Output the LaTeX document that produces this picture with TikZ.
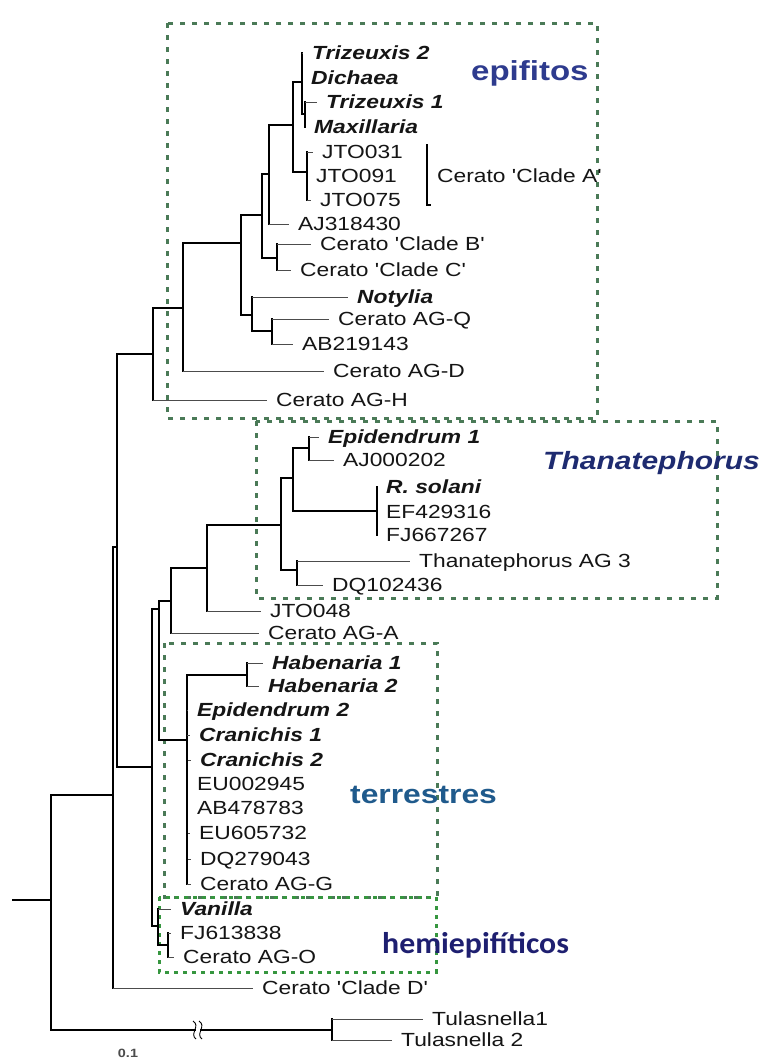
\documentclass[tikz,border=0pt]{standalone}
\usepackage{fontspec}
\newfontfamily\lf{Liberation Sans}[FakeStretch=1.2]
\newfontfamily\cf{Carlito}[FakeStretch=1.06]
\definecolor{boxgreen}{HTML}{4A7A57}
\definecolor{hemigreen}{HTML}{36963F}
\definecolor{epiblue}{HTML}{2E3B8E}
\definecolor{thanblue}{HTML}{1E2B70}
\definecolor{terrblue}{HTML}{1F5A8C}
\definecolor{hemiblue}{HTML}{1E1F70}
\definecolor{ink}{HTML}{151515}
\newcommand\tipedge[2]{\draw[branch] (#1) -- (#1 |- #2.west);\draw[twig] (#1 |- #2.west) -- ([xshift=-9pt]#2.west);}
\begin{document}
\begin{tikzpicture}[x=1pt,y=-1pt,
  tip/.style={anchor=west, inner sep=0pt, text height=13.5pt, text depth=0pt, font=\lf\fontsize{19}{19}\selectfont, text=ink},
  tipb/.style={tip, font=\lf\fontsize{19}{19}\selectfont\bfseries\itshape},
  branch/.style={line width=1.2pt, black, line cap=rect},
  twig/.style={line width=0.9pt, black!70},
  grp/.style={draw=boxgreen, line width=3pt, dash pattern=on 5pt off 7pt},
  hemigrp/.style={draw=hemigreen, line width=3pt, dash pattern=on 4pt off 5pt},
  grplabel/.style={anchor=west, inner sep=0pt}
]
\fill[white] (0,0) rectangle (764,1061);
\useasboundingbox (0,0) rectangle (764,1061);

% group boxes
\draw[grp] (167,23) rectangle (597,418);
\draw[grp] (256,421) rectangle (717,598);
\draw[grp] (164,643) rectangle (437,897);
\draw[hemigrp] (159,897) rectangle (436,972);

% group labels
\node[grplabel, font=\lf\fontsize{27.5}{27.5}\selectfont\bfseries, text=epiblue] (lepi) at (471,73) {epifitos};
\node[grplabel, font=\lf\fontsize{25}{25}\selectfont\bfseries\itshape, text=thanblue] (lthan) at (543,463) {Thanatephorus};
\node[grplabel, font=\lf\fontsize{26.5}{26.5}\selectfont\bfseries, text=terrblue] (lterr) at (350,795) {terrestres};
\node[grplabel, font=\cf\fontsize{30}{30}\selectfont\bfseries, text=hemiblue] (lhemi) at (382,945) {hemiepifíticos};

% internal nodes
\coordinate (rs) at (13,900);
\coordinate (root) at (51,900);
\coordinate (nA) at (113,795);
\coordinate (nTul) at (332,1030);
\coordinate (nB) at (117,547);
\coordinate (nEpi) at (153,354);
\coordinate (nD) at (152,767);
\coordinate (n183) at (183,308);
\coordinate (nR) at (241,243);
\coordinate (nP) at (262,215);
\coordinate (nS) at (252,315);
\coordinate (nQ) at (269,174);
\coordinate (nBC) at (277,258);
\coordinate (n293) at (293,125);
\coordinate (nT) at (302,82);
\coordinate (nM) at (305,114);
\coordinate (nJ) at (307,172);
\coordinate (nU) at (272,331);
\coordinate (nE) at (159,609);
\coordinate (nF) at (171,601);
\coordinate (nG) at (207,568);
\coordinate (nH) at (281,525);
\coordinate (nI) at (293,478);
\coordinate (nJ2) at (309,448);
\coordinate (nK) at (377,511);
\coordinate (nL) at (297,570);
\coordinate (nTer) at (187,740);
\coordinate (nHab) at (247,675);
\coordinate (nV) at (158,926);
\coordinate (nW) at (168,945);

% tips: epifitos
\node[tipb] (tTri2) at (312,53) {Trizeuxis 2};
\node[tipb] (tDic) at (311,78) {Dichaea};
\node[tipb] (tTri1) at (326,102) {Trizeuxis 1};
\node[tipb] (tMax) at (314,127) {Maxillaria};
\node[tip] (tJ31) at (322,152) {JTO031};
\node[tip] (tJ91) at (316,176) {JTO091};
\node[tip] (tJ75) at (320,200) {JTO075};
\node[tip] (tAJ3) at (298,224) {AJ318430};
\node[tip] (tCB) at (320,244) {Cerato 'Clade B'};
\node[tip] (tCC) at (300,270) {Cerato 'Clade C'};
\node[tipb] (tNot) at (357,297) {Notylia};
\node[tip] (tAGQ) at (338,319) {Cerato AG-Q};
\node[tip] (tAB2) at (302,344) {AB219143};
\node[tip] (tAGD) at (333,371) {Cerato AG-D};
\node[tip] (tAGH) at (276,400) {Cerato AG-H};
% Clade A bracket
\coordinate (caT) at (427,144);
\coordinate (caB) at (427,205);
\coordinate (caF) at (431,205);
\node[tip] (tCA) at (437,176) {Cerato 'Clade A'};
% tips: Thanatephorus
\node[tipb] (tEp1) at (328,437) {Epidendrum 1};
\node[tip] (tAJ0) at (343,460) {AJ000202};
\node[tipb] (tRs) at (386,487) {R. solani};
\node[tip] (tEF) at (386,512) {EF429316};
\node[tip] (tFJ6) at (386,535) {FJ667267};
\node[tip] (tTAG3) at (419,561) {Thanatephorus AG 3};
\node[tip] (tDQ1) at (332,585) {DQ102436};
\node[tip] (tJ48) at (270,611) {JTO048};
\node[tip] (tAGA) at (268,633) {Cerato AG-A};
% tips: terrestres
\node[tipb] (tHab1) at (272,663) {Habenaria 1};
\node[tipb] (tHab2) at (268,686) {Habenaria 2};
\node[tipb] (tEp2) at (197,710) {Epidendrum 2};
\node[tipb] (tCr1) at (199,735) {Cranichis 1};
\node[tipb] (tCr2) at (200,760) {Cranichis 2};
\node[tip] (tEU0) at (197,784) {EU002945};
\node[tip] (tAB4) at (197,808) {AB478783};
\node[tip] (tEU6) at (199,833) {EU605732};
\node[tip] (tDQ2) at (200,859) {DQ279043};
\node[tip] (tAGG) at (200,884) {Cerato AG-G};
% tips: hemiepifiticos
\node[tipb] (tVan) at (180,909) {Vanilla};
\node[tip] (tFJ6b) at (180,933) {FJ613838};
\node[tip] (tAGO) at (183,957) {Cerato AG-O};
% outgroup etc.
\node[tip] (tCD) at (262,988) {Cerato 'Clade D'};
\node[tip] (tTul1) at (432,1019) {Tulasnella1};
\node[tip] (tTul2) at (401,1040) {Tulasnella 2};
\node[anchor=center, inner sep=0pt, font=\lf\fontsize{12}{12}\selectfont\bfseries, text=black!70] (scalelbl) at (128,1053) {0.1};

% branches between internal nodes
\draw[branch] (rs) -- (root);
\draw[branch] (root) |- (nA);
\draw[branch] (root) |- (nTul);
\draw[branch] (nA) |- (nB);
\draw[branch] (nB) |- (nEpi);
\draw[branch] (nB) |- (nD);
\draw[branch] (nEpi) |- (n183);
\draw[branch] (n183) |- (nR);
\draw[branch] (nR) |- (nP);
\draw[branch] (nR) |- (nS);
\draw[branch] (nP) |- (nQ);
\draw[branch] (nP) |- (nBC);
\draw[branch] (nQ) |- (n293);
\draw[branch] (n293) |- (nT);
\draw[branch] (n293) |- (nJ);
\draw[branch] (nT) |- (nM);
\draw[branch] (nS) |- (nU);
\draw[branch] (nD) |- (nE);
\draw[branch] (nD) |- (nV);
\draw[branch] (nE) |- (nF);
\draw[branch] (nE) |- (nTer);
\draw[branch] (nF) |- (nG);
\draw[branch] (nG) |- (nH);
\draw[branch] (nH) |- (nI);
\draw[branch] (nH) |- (nL);
\draw[branch] (nI) |- (nJ2);
\draw[branch] (nI) |- (nK);
\draw[branch] (nTer) |- (nHab);
\draw[branch] (nV) |- (nW);

% branches to tips
\tipedge{nT}{tTri2}
\tipedge{nT}{tDic}
\tipedge{nM}{tTri1}
\tipedge{nM}{tMax}
\tipedge{nJ}{tJ31}
\tipedge{nJ}{tJ91}
\tipedge{nJ}{tJ75}
\tipedge{nQ}{tAJ3}
\tipedge{nBC}{tCB}
\tipedge{nBC}{tCC}
\tipedge{nS}{tNot}
\tipedge{nU}{tAGQ}
\tipedge{nU}{tAB2}
\tipedge{n183}{tAGD}
\tipedge{nEpi}{tAGH}
\tipedge{nJ2}{tEp1}
\tipedge{nJ2}{tAJ0}
\tipedge{nK}{tRs}
\tipedge{nK}{tEF}
\tipedge{nK}{tFJ6}
\tipedge{nL}{tTAG3}
\tipedge{nL}{tDQ1}
\tipedge{nG}{tJ48}
\tipedge{nF}{tAGA}
\tipedge{nHab}{tHab1}
\tipedge{nHab}{tHab2}
\tipedge{nTer}{tEp2}
\tipedge{nTer}{tCr1}
\tipedge{nTer}{tCr2}
\tipedge{nTer}{tEU0}
\tipedge{nTer}{tAB4}
\tipedge{nTer}{tEU6}
\tipedge{nTer}{tDQ2}
\tipedge{nTer}{tAGG}
\tipedge{nV}{tVan}
\tipedge{nW}{tFJ6b}
\tipedge{nW}{tAGO}
\tipedge{nA}{tCD}
\tipedge{nTul}{tTul1}
\tipedge{nTul}{tTul2}

% Clade A bracket
\draw[branch, line cap=butt] (caT) -- (caB) -- (caF);

% break mark on outgroup branch
\fill[white] (195.5,1027) rectangle (199.5,1033);
\draw[line width=0.9pt] (193,1021) .. controls (201,1026) and (189,1034) .. (196,1039);
\draw[line width=0.9pt] (199,1021) .. controls (207,1026) and (195,1034) .. (202,1039);
\end{tikzpicture}
\end{document}
